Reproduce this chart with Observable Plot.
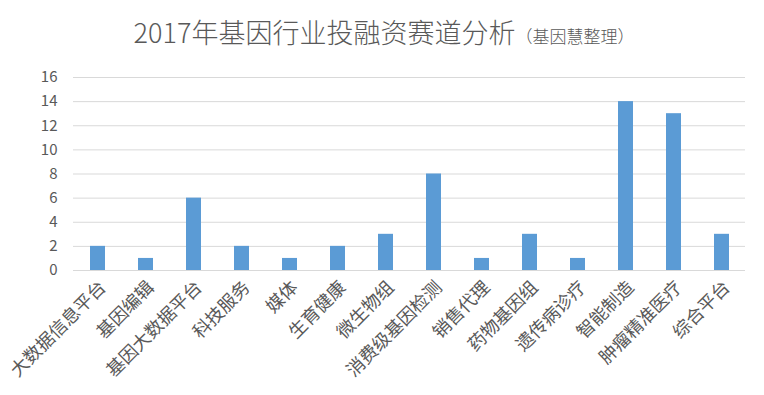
<!DOCTYPE html>
<html><head><meta charset="utf-8">
<script src="https://cdn.jsdelivr.net/npm/d3@7"></script>
<script src="https://cdn.jsdelivr.net/npm/@observablehq/plot@0.6"></script>
<style>
body{margin:0;background:#fff;font-family:"Noto Sans CJK SC","Noto Sans",sans-serif;}
#title{height:60px;box-sizing:border-box;padding-top:15px;text-align:center;color:#595959;font-size:27px;line-height:33px;padding-left:4px;font-weight:300;}
#title small{font-size:17px;}
</style></head><body>
<div id="title">2017年基因行业投融资赛道分析<small>（基因慧整理）</small></div>
<div id="chart"></div>
<script>
const categories = ["大数据信息平台","基因编辑","基因大数据平台","科技服务","媒体","生育健康","微生物组","消费级基因检测","销售代理","药物基因组","遗传病诊疗","智能制造","肿瘤精准医疗","综合平台"];
const values = [2,1,6,2,1,2,3,8,1,3,1,14,13,3];
const yTicks = [0,2,4,6,8,10,12,14,16];
const data = categories.map((c,i)=>({c, v: values[i]}));
const chart = Plot.plot({
  width: 764, height: 335,
  marginTop: 17, marginBottom: 125, marginLeft: 73, marginRight: 19,
  style: {fontFamily: '"Noto Sans CJK SC", sans-serif', fontSize: "15px", color: "#595959", background: "#fff"},
  x: {domain: categories, paddingInner: 0.69, paddingOuter: 0.345, label: null},
  y: {domain: [0,16], ticks: yTicks, label: null},
  marks: [
    Plot.gridY(yTicks, {stroke: "#d9d9d9", strokeOpacity: 1}),
    Plot.barY(data, {x: "c", y: "v", fill: "#5b9bd5"}),
    Plot.ruleY([0], {stroke: "#d9d9d9"}),
    Plot.axisY(yTicks, {tickSize: 0, tickPadding: 16, fontSize: 15, fill: "#595959", label: null}),
    Plot.axisX({tickSize: 0, tickRotate: -45, tickPadding: 14, fontSize: 18, fill: "#595959", label: null, dx: 5})
  ]
});
document.getElementById("chart").appendChild(chart);
</script></body></html>
